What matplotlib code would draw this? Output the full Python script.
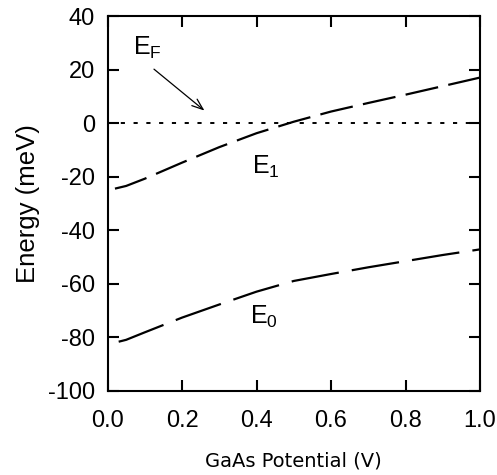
import matplotlib
matplotlib.use("Agg")
import matplotlib.pyplot as plt

plt.rcParams['font.family'] = ['Liberation Sans', 'DejaVu Sans']
plt.rcParams['lines.scale_dashes'] = False

# Data
e1_x = [0.02, 0.05, 0.1, 0.2, 0.3, 0.4, 0.5, 0.6, 0.7, 0.8, 0.9, 1.0]
e1_y = [-24.5, -23.5, -20.8, -14.8, -9.0, -3.8, 0.5, 4.3, 7.5, 10.6, 13.8, 17.0]
e0_x = [0.03, 0.05, 0.1, 0.2, 0.3, 0.4, 0.5, 0.6, 0.7, 0.8, 0.9, 1.0]
e0_y = [-81.7, -81.0, -78.2, -72.7, -67.8, -63.0, -59.0, -56.4, -53.9, -51.6, -49.3, -47.2]
fermi_x = [0.0, 1.0]
fermi_y = [0.0, 0.0]

xticks = [0.0, 0.2, 0.4, 0.6, 0.8, 1.0]
xticklabels = ["0.0", "0.2", "0.4", "0.6", "0.8", "1.0"]
yticks = [-100, -80, -60, -40, -20, 0, 20, 40]
yticklabels = ["-100", "-80", "-60", "-40", "-20", "0", "20", "40"]

fig = plt.figure(figsize=(4.97, 4.75), dpi=100)
ax = fig.add_axes([0.2163, 0.1775, 0.9658 - 0.2163, 0.9663 - 0.1775])

ax.plot(fermi_x, fermi_y, color='black', lw=1.4, dashes=(3, 6.2))
ax.plot(e1_x, e1_y, color='black', lw=1.6, dashes=(24, 7.5))
ax.plot(e0_x, e0_y, color='black', lw=1.6, dashes=(34.5, 9.5))

ax.set_xlim(0.0, 1.0)
ax.set_ylim(-100, 40)
ax.set_xticks(xticks)
ax.set_xticklabels(xticklabels)
ax.set_yticks(yticks)
ax.set_yticklabels(yticklabels)
ax.tick_params(direction='in', length=8, width=1.5, top=True, right=True,
               labelsize=17)
ax.tick_params(axis='x', pad=14)
ax.tick_params(axis='y', pad=9)
for s in ax.spines.values():
    s.set_linewidth(1.5)

ax.set_xlabel("GaAs Potential (V)", fontsize=14, labelpad=14,
              family=['DejaVu Sans'])
ax.set_ylabel("Energy (meV)", fontsize=18.5, labelpad=6)

ax.text(0.068, 28.2, r"E$_\mathregular{F}$", fontsize=18, va='center', ha='left')
ax.text(0.387, -16.4, r"E$_\mathregular{1}$", fontsize=18, va='center', ha='left')
ax.text(0.383, -72.3, r"E$_\mathregular{0}$", fontsize=18, va='center', ha='left')
ax.annotate("", xy=(0.266, 4.0), xytext=(0.119, 20.8),
            arrowprops=dict(arrowstyle='->,head_length=0.8,head_width=0.3',
                            color='black', lw=0.9))

fig.savefig("out.png", dpi=100)
